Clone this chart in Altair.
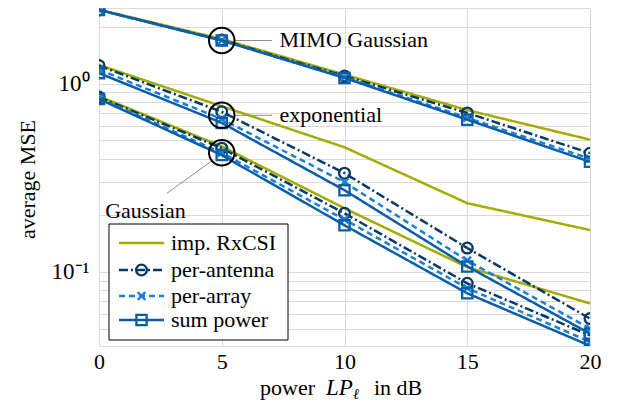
import altair as alt
import pandas as pd

# ---------------- data ----------------
x_vals = [0, 5, 10, 15, 20]
methods = ["imp. RxCSI", "per-antenna", "per-array", "sum power"]
scenarios = ["MIMO Gaussian", "exponential", "Gaussian"]

mimo_imp = [2.48, 1.73, 1.12, 0.725, 0.505]
mimo_ant = [2.47, 1.71, 1.10, 0.70, 0.428]
mimo_arr = [2.47, 1.70, 1.085, 0.66, 0.40]
mimo_sum = [2.47, 1.70, 1.075, 0.645, 0.385]

exp_imp = [1.26, 0.76, 0.46, 0.232, 0.167]
exp_ant = [1.25, 0.71, 0.335, 0.134, 0.0565]
exp_arr = [1.19, 0.65, 0.30, 0.115, 0.050]
exp_sum = [1.14, 0.62, 0.272, 0.107, 0.047]

gau_imp = [0.86, 0.465, 0.218, 0.106, 0.068]
gau_ant = [0.85, 0.455, 0.205, 0.087, 0.046]
gau_arr = [0.84, 0.43, 0.19, 0.082, 0.0425]
gau_sum = [0.83, 0.418, 0.177, 0.077, 0.0405]

series = {
    ("MIMO Gaussian", "imp. RxCSI"): mimo_imp,
    ("MIMO Gaussian", "per-antenna"): mimo_ant,
    ("MIMO Gaussian", "per-array"): mimo_arr,
    ("MIMO Gaussian", "sum power"): mimo_sum,
    ("exponential", "imp. RxCSI"): exp_imp,
    ("exponential", "per-antenna"): exp_ant,
    ("exponential", "per-array"): exp_arr,
    ("exponential", "sum power"): exp_sum,
    ("Gaussian", "imp. RxCSI"): gau_imp,
    ("Gaussian", "per-antenna"): gau_ant,
    ("Gaussian", "per-array"): gau_arr,
    ("Gaussian", "sum power"): gau_sum,
}

# annotation data
ann_labels = ["MIMO Gaussian", "exponential", "Gaussian"]
ann_circle_y = [1.70, 0.68, 0.43]
ann_line_x1 = [5.55, 5.55, 4.64]
ann_line_y1 = [1.70, 0.68, 0.393]
ann_line_x2 = [7.05, 7.05, 2.77]
ann_line_y2 = [1.70, 0.68, 0.262]
ann_text_x = [7.35, 7.35, 0.25]
ann_text_y = [1.70, 0.68, 0.21]

y_grid = [0.05, 0.06, 0.07, 0.08, 0.09, 0.1, 0.2, 0.3, 0.4, 0.5, 0.6, 0.7, 0.8, 0.9, 1, 2]

# ---------------- styles ----------------
FONT = "Liberation Serif"
FS = 22
colors = {"imp. RxCSI": "#a3ad00", "per-antenna": "#0a3a62",
          "per-array": "#1a80d5", "sum power": "#0b5ea6"}
dashes = {"imp. RxCSI": [1, 0], "per-antenna": [9, 3, 2, 3],
          "per-array": [6, 4], "sum power": [1, 0]}
XPATH = "M-1,-1L1,1M-1,1L1,-1"
shapes = {"per-antenna": "circle", "per-array": XPATH, "sum power": "square"}
sizes = {"per-antenna": 115, "per-array": 60, "sum power": 105}

rows = []
for (sc, m), vals in series.items():
    for xv, yv in zip(x_vals, vals):
        rows.append({"scenario": sc, "method": m, "x": xv, "y": yv})
df = pd.DataFrame(rows)

W, H = 491, 338
xscale = alt.Scale(domain=[0, 20], nice=False)
yscale = alt.Scale(type="log", domain=[0.0404, 2.53], nice=False)

xenc = alt.X("x:Q", scale=xscale, axis=alt.Axis(
    values=x_vals, grid=True, ticks=False, domain=False, labelFontSize=FS,
    labelFont=FONT, labelPadding=5, title=None, gridColor="#d9d9d9",
    labelColor="black", labelFlush=False))
yenc = alt.Y("y:Q", scale=yscale, axis=alt.Axis(
    values=y_grid, grid=True, ticks=False, domain=False, labelFontSize=23,
    labelFont=FONT, labelPadding=10, gridColor="#d9d9d9", labelColor="black",
    labelExpr="datum.value == 1 ? '10⁰' : (datum.value == 0.1 ? '10⁻¹' : '')",
    title="average MSE", titleFont=FONT, titleFontSize=FS, titleFontWeight="normal",
    titleColor="black", titleAngle=270, titleX=-72, titleY=171,
    titleAlign="center", titleBaseline="middle"))

layers = []
for m in methods:
    d = df[df.method == m]
    base = alt.Chart(d)
    layers.append(base.mark_line(color=colors[m], strokeWidth=2.5,
                                 strokeDash=dashes[m], clip=True).encode(
        x=xenc, y=yenc, detail="scenario:N"))
    if m in shapes:
        layers.append(base.mark_point(shape=shapes[m], filled=False,
                                      color=colors[m], strokeWidth=2.3,
                                      size=sizes[m], opacity=1, clip=True).encode(
            x=alt.X("x:Q", scale=xscale), y=alt.Y("y:Q", scale=yscale)))

# annotations
ann = pd.DataFrame({"label": ann_labels, "cy": ann_circle_y, "cx": [5, 5, 5],
                    "x1": ann_line_x1, "y1": ann_line_y1,
                    "x2": ann_line_x2, "y2": ann_line_y2,
                    "tx": ann_text_x, "ty": ann_text_y})
ann_lines = alt.Chart(ann).mark_rule(color="#8c8c8c", strokeWidth=1).encode(
    x=alt.X("x1:Q", scale=xscale), y=alt.Y("y1:Q", scale=yscale),
    x2="x2:Q", y2="y2:Q")
ann_circ = alt.Chart(ann).mark_point(shape="circle", filled=False, color="black",
                                     strokeWidth=2, size=650, opacity=1).encode(
    x=alt.X("cx:Q", scale=xscale), y=alt.Y("cy:Q", scale=yscale))
ann_text = alt.Chart(ann).mark_text(align="left", baseline="middle", font=FONT,
                                    fontSize=FS, color="black").encode(
    x=alt.X("tx:Q", scale=xscale), y=alt.Y("ty:Q", scale=yscale), text="label:N")

# legend (manual)
lx0, ly0, lx1, ly1 = 10, 216, 189, 332
row_y = [235, 262, 288, 312]
legend_layers = [alt.Chart(pd.DataFrame({"a": [0]})).mark_rect(
    fill="white", stroke="black", strokeWidth=1).encode(
    x=alt.value(lx0), x2=alt.value(lx1), y=alt.value(ly0), y2=alt.value(ly1))]
for m, ry in zip(methods, row_y):
    one = alt.Chart(pd.DataFrame({"method": [m]}))
    legend_layers.append(one.mark_rule(color=colors[m], strokeWidth=2.5,
                                       strokeDash=dashes[m]).encode(
        x=alt.value(20), x2=alt.value(65), y=alt.value(ry)))
    if m in shapes:
        legend_layers.append(one.mark_point(shape=shapes[m], filled=False,
                                            color=colors[m], strokeWidth=2.3,
                                            size=sizes[m], opacity=1).encode(
            x=alt.value(42.5), y=alt.value(ry)))
    legend_layers.append(one.mark_text(align="left", baseline="middle", font=FONT,
                                       fontSize=FS, color="black").encode(
        x=alt.value(72), y=alt.value(ry), text="method:N"))

# x-axis title with math italics
title_parts = [("power", 161, 387, 22, "normal"), ("LP", 227, 387, 23, "italic"),
               ("ℓ", 254, 391, 15, "italic"), ("in dB", 275, 387, 22, "normal")]
title_layers = []
for txt, tx, ty, fs, st in title_parts:
    title_layers.append(alt.Chart(pd.DataFrame({"t": [txt]})).mark_text(
        align="left", baseline="alphabetic", font=FONT, fontSize=fs,
        fontStyle=st, color="black").encode(
        x=alt.value(tx), y=alt.value(ty), text="t:N"))

chart = alt.layer(*layers, ann_lines, ann_circ, ann_text, *legend_layers,
                  *title_layers).properties(
    width=W, height=H,
    autosize=alt.AutoSizeParams(type="none"),
    padding={"left": 91, "top": 0, "right": 20, "bottom": 62},
).configure_view(stroke="black", strokeWidth=1.2).configure(background="white")

chart.save("out.html", embed_options={"renderer": "svg", "actions": False})
